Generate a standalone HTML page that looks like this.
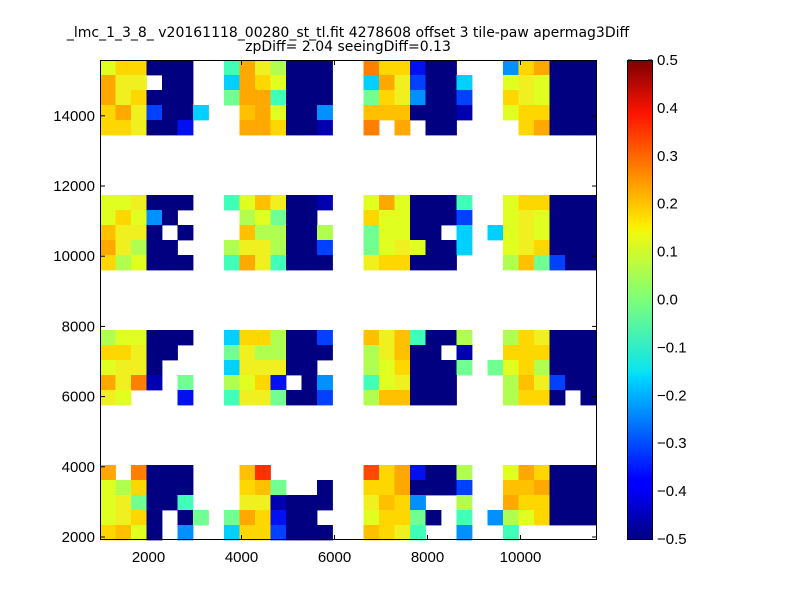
<!DOCTYPE html>
<html><head><meta charset="utf-8"><style>
body{margin:0;background:#fff;}
svg text{font-family:"Liberation Sans",sans-serif;}
</style></head><body>
<svg id="s" width="800" height="600" xmlns="http://www.w3.org/2000/svg">
<defs><linearGradient id="jet" x1="0" y1="1" x2="0" y2="0">
<stop offset="0" stop-color="#00007f"/><stop offset="0.11" stop-color="#0000ff"/>
<stop offset="0.125" stop-color="#0000ff"/><stop offset="0.34" stop-color="#00d8ff"/>
<stop offset="0.35" stop-color="#0ae4f0"/><stop offset="0.5" stop-color="#7cff7a"/>
<stop offset="0.64" stop-color="#f0f90e"/><stop offset="0.66" stop-color="#ffea00"/>
<stop offset="0.89" stop-color="#ff1300"/><stop offset="1" stop-color="#7f0000"/>
</linearGradient></defs>
<rect x="0" y="0" width="800" height="600" fill="#fff"/>
<g id="cells"></g>
<rect x="100.5" y="60.5" width="496" height="479" fill="none" stroke="#000"/>
<g id="ticks" stroke="#000"></g>
<g font-size="15" text-anchor="end" id="ylab"></g>
<g font-size="15" text-anchor="middle" id="xlab"></g>
<text x="348" y="37" font-size="14" text-anchor="middle" style="font-family:'DejaVu Sans',sans-serif">_lmc_1_3_8_ v20161118_00280_st_tl.fit 4278608 offset 3 tile-paw apermag3Diff</text>
<text x="348" y="51" font-size="14" text-anchor="middle" style="font-family:'DejaVu Sans',sans-serif">zpDiff= 2.04 seeingDiff=0.13</text>
<rect x="627.5" y="60.5" width="25" height="479" fill="url(#jet)" stroke="#000"/>
<g id="cb" font-size="15"></g>
</svg>
<script>
var C={a:"#e0ff20",g:"#ffd700",y:"#f0f020",o:"#ffa800",q:"#ffc000",k:"#ff8000",r:"#ff3000",s:"#ff4800",l:"#b0ff50",h:"#70ff90",t:"#40ffb8",c:"#00d0ff",e:"#0090ff",b:"#0040ff",u:"#0010f0",n:"#0000b0",d:"#000080"};
var R={0:"aggddd..toylddd..kggudd...egoddd",1:"oyy.dd..cogaddd..coybddc..ayaddd",2:"oygddd..hootddd..hgyeddb..gyaddd",3:"goybddc..qoadde..qqqdddn..aggddd",4:"ggyddu...oogddn..k.o.dd....goddd",
9:"aayddd..taqyddn..aoadddt..aggddd",10:"agaed....lahdd...gaadddb..ayaddd",11:"qyyd.d...qllddl..haadd.c.cayaddd",12:"oyldd...lyylddb..hayaddc..aygddd",13:"gladdd..toytddd..yggddd...lqhbdd",
18:"laaddd..cgglddb..qyqtddl..lgyddd",19:"ggydd...hyllddd..lyqdd.n..gggddd",20:"ayyd....cyyydd...lagdddh.haglddd",21:"oykn.h..lagu.de..tayddd...lqybdd",22:"ya...u..tyyhddb..lqqddd...lggd.d",
27:"o.kddd...qr......sgouddl..aogddd",28:"algddd...gqh..d..ggodddb..qqoddd",29:"ayhddt...yynddd..yqge..l..oggddd",30:"aygd.dh.hogudd...agghd.t.elagddd",31:"gqad.e..cggbddd..qgyt..e..t....."};
var g=document.getElementById("cells"),h="";
for(var r in R){var s=R[r];for(var i=0;i<32&&i<s.length;i++){var ch=s[i];if(!C[ch])continue;
var x0=100+i*496/32,x1=100+(i+1)*496/32;h+='<rect x="'+x0.toFixed(2)+'" y="'+(60+r*15)+'" width="'+(x1-x0+0.4).toFixed(2)+'" height="15.4" fill="'+C[ch]+'"/>';}}
g.innerHTML=h;
var t="",yl="",xl="";
[2000,4000,6000,8000,10000,12000,14000].forEach(function(v,i){var y=537-i*70.2;t+='<line x1="100" y1="'+y+'" x2="105" y2="'+y+'"/><line x1="592" y1="'+y+'" x2="597" y2="'+y+'"/>';yl+='<text x="95" y="'+(y+5)+'">'+v+'</text>';});
[2000,4000,6000,8000,10000].forEach(function(v,i){var x=148.5+i*93;t+='<line x1="'+x+'" y1="540" x2="'+x+'" y2="535"/><line x1="'+x+'" y1="60" x2="'+x+'" y2="65"/>';xl+='<text x="'+x+'" y="562">'+v+'</text>';});
var cb="";for(var k=0;k<=10;k++){var v=(0.5-k*0.1),y=60+k*47.9;t+='<line x1="628" y1="'+y+'" x2="632" y2="'+y+'"/><line x1="648" y1="'+y+'" x2="652" y2="'+y+'"/>';cb+='<text x="657" y="'+(y+5)+'">'+(Math.abs(v)<1e-9?"0.0":v.toFixed(1)).replace("-","\u2212")+'</text>';}
document.getElementById("ticks").innerHTML=t;document.getElementById("ylab").innerHTML=yl;document.getElementById("xlab").innerHTML=xl;document.getElementById("cb").innerHTML=cb;
</script>
</body></html>
